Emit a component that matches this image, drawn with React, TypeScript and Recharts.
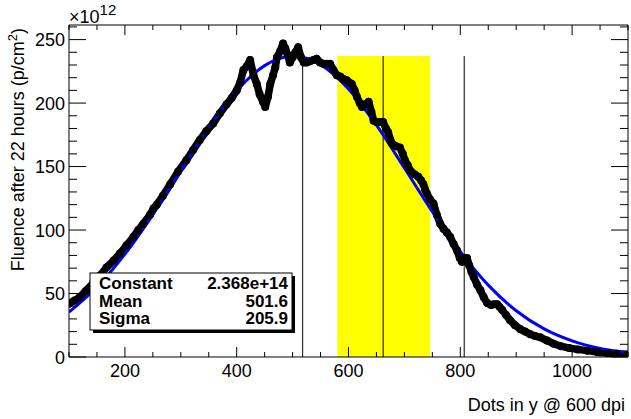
import {
  ComposedChart,
  Line,
  XAxis,
  YAxis,
  ReferenceArea,
  ReferenceLine,
} from 'recharts';

const W = 631;
const H = 419;
const FONT = '"Liberation Sans", Arial, Helvetica, sans-serif';

// measured fluence (x10^12 p/cm^2) vs dots in y
const dotsY = [
  100, 110, 119, 130, 143, 155, 167, 180, 191, 203, 215, 224, 233, 245, 251, 257, 268, 281, 295,
  310, 322, 334, 346, 358, 370, 382, 391, 400, 406, 412, 418, 424, 430, 436, 441, 447, 451, 456,
  460, 465, 469, 472, 478, 483, 487, 491, 495, 500, 505, 510, 515, 520, 525, 531, 537, 543, 549,
  555, 561, 567, 573, 579, 585, 591, 597, 602, 606, 611, 615, 620, 624, 630, 636, 641, 645, 650,
  656, 662, 667, 671, 675, 678, 685, 692, 697, 701, 706, 710, 718, 725, 730, 734, 737, 740, 746,
  752, 758, 764, 770, 776, 782, 788, 794, 799, 803, 808, 812, 816, 820, 824, 830, 836, 842, 848,
  855, 860, 866, 870, 875, 882, 889, 898, 907, 916, 925, 934, 943, 955, 967, 980, 995, 1010, 1027,
  1045, 1065, 1080, 1100,
];
const fluence = [
  42, 44.5, 47, 52, 58, 64, 70.5, 76, 81.5, 88, 94.5, 100, 105, 112, 117, 120, 127, 136, 146,
  155, 163, 171, 178, 184, 192, 199, 204, 210, 216, 226, 229, 234, 222, 215, 207, 201, 197, 205,
  215, 222, 228, 236, 241, 247, 243, 238, 232, 236, 240, 244, 236, 232, 232, 233, 234, 235, 232,
  231, 231, 231, 226, 222, 221, 219, 218, 216, 215, 210, 205, 200, 197, 199, 201, 193, 186, 185,
  185, 185, 180, 177, 171, 168, 166, 165, 160, 155, 151, 147, 144, 142, 139, 136, 132, 129, 124,
  121, 112, 105, 101, 98, 94.5, 89, 84, 78, 75, 78, 78, 72, 67, 63, 57, 52.5, 47, 42.5,
  41, 41.5, 41.5, 39.5, 37, 33, 29, 25, 22, 20, 18, 16.5, 15.5, 13, 10.5, 8.5, 7, 6, 5,
  4, 3, 2.5, 2,
];

// gaussian fit curve
const fitX = [
  100, 150, 200, 250, 300, 350, 400, 450, 500, 550, 600, 650, 700, 750, 800, 850, 900, 950, 1000,
  1050, 1100,
];
const fitY = [
  35.3, 55.1, 81.0, 112.2, 146.6, 180.6, 209.7, 229.5, 236.8, 230.3, 211.2, 182.6, 148.9, 114.4,
  82.9, 56.6, 36.4, 22.1, 12.7, 6.8, 3.5,
];

const xTicks = [
  100, 150, 200, 250, 300, 350, 400, 450, 500, 550, 600, 650, 700, 750, 800, 850, 900, 950, 1000,
  1050, 1100,
];
const yTicks = [
  0, 10, 20, 30, 40, 50, 60, 70, 80, 90, 100, 110, 120, 130, 140, 150, 160, 170, 180, 190, 200,
  210, 220, 230, 240, 250, 260,
];

const markerLines = [518, 662, 807];
const bandRange = [580, 746];
const markerTop = 237;

const statNames = ['Constant', 'Mean', 'Sigma'];
const statValues = ['2.368e+14', '501.6', '205.9'];

const measured = dotsY.map((x, i) => ({ x, y: fluence[i] }));
const fit = fitX.map((x, i) => ({ x, y: fitY[i] }));

function BottomTick({ x, y, payload }: any) {
  const major = payload.value % 200 === 0;
  return (
    <g>
      <line x1={x} x2={x} y1={y} y2={y - (major ? 10 : 5)} stroke="#000" />
      {major && (
        <text x={x} y={y + 20} textAnchor="middle" fontSize={18} fontFamily={FONT} fill="#000">
          {payload.value}
        </text>
      )}
    </g>
  );
}

function TopTick({ x, y, payload }: any) {
  const major = payload.value % 200 === 0;
  return <line x1={x} x2={x} y1={y} y2={y + (major ? 10 : 5)} stroke="#000" />;
}

function LeftTick({ x, y, payload }: any) {
  const major = payload.value % 50 === 0;
  return (
    <g>
      <line x1={x} x2={x + (major ? 17 : 8)} y1={y} y2={y} stroke="#000" />
      {major && (
        <text x={x - 4} y={y + 6.5} textAnchor="end" fontSize={18} fontFamily={FONT} fill="#000">
          {payload.value}
        </text>
      )}
    </g>
  );
}

function RightTick({ x, y, payload }: any) {
  const major = payload.value % 50 === 0;
  return <line x1={x} x2={x - (major ? 17 : 8)} y1={y} y2={y} stroke="#000" />;
}

function Overlay() {
  return (
    <svg
      width={W}
      height={H}
      style={{ position: 'absolute', left: 0, top: 0, pointerEvents: 'none' }}
      fontFamily={FONT}
    >
      <text x={69} y={23} fontSize={18} fill="#000">
        ×10
        <tspan dy={-8} fontSize={15}>
          12
        </tspan>
      </text>

      <text
        transform="translate(24,28) rotate(-90)"
        textAnchor="end"
        fontSize={18}
        fill="#000"
      >
        Fluence after 22 hours (p/cm
        <tspan dy={-7} fontSize={13}>
          2
        </tspan>
        <tspan dy={7}>)</tspan>
      </text>

      <text x={625} y={411} textAnchor="end" fontSize={18} fill="#000">
        Dots in y @ 600 dpi
      </text>

      <rect x={93} y={276} width={202} height={57} fill="#000" />
      <rect x={90} y={273} width={202} height={57} fill="#fff" stroke="#000" strokeWidth={1} />
      {statNames.map((name, i) => (
        <g key={name}>
          <text x={99} y={289 + i * 17.5} fontSize={17} fontWeight="bold" fill="#000">
            {name}
          </text>
          <text x={288} y={289 + i * 17.5} fontSize={17} fontWeight="bold" textAnchor="end" fill="#000">
            {statValues[i]}
          </text>
        </g>
      ))}
    </svg>
  );
}

export default function App() {
  return (
    <div style={{ position: 'absolute', left: 0, top: 0, width: W, height: H, background: '#fff' }}>
      <ComposedChart width={W} height={H} margin={{ top: 0, right: 0, bottom: 0, left: 0 }}>
        <XAxis
          xAxisId="x"
          type="number"
          dataKey="x"
          domain={[100, 1100]}
          ticks={xTicks}
          interval={0}
          height={62}
          tickSize={0}
          tickMargin={0}
          tickLine={false}
          tick={BottomTick}
          axisLine={{ stroke: '#000' }}
          allowDataOverflow
        />
        <XAxis
          xAxisId="xt"
          orientation="top"
          type="number"
          dataKey="x"
          domain={[100, 1100]}
          ticks={xTicks}
          interval={0}
          height={25}
          tickSize={0}
          tickMargin={0}
          tickLine={false}
          tick={TopTick}
          axisLine={{ stroke: '#000' }}
          allowDataOverflow
        />
        <YAxis
          yAxisId="y"
          type="number"
          domain={[0, 261.5]}
          ticks={yTicks}
          interval={0}
          width={69}
          tickSize={0}
          tickMargin={0}
          tickLine={false}
          tick={LeftTick}
          axisLine={{ stroke: '#000' }}
          allowDataOverflow
        />
        <YAxis
          yAxisId="yr"
          orientation="right"
          type="number"
          domain={[0, 261.5]}
          ticks={yTicks}
          interval={0}
          width={3}
          tickSize={0}
          tickMargin={0}
          tickLine={false}
          tick={RightTick}
          axisLine={{ stroke: '#000' }}
          allowDataOverflow
        />

        <ReferenceArea
          xAxisId="x"
          yAxisId="y"
          x1={bandRange[0]}
          x2={bandRange[1]}
          y1={0}
          y2={markerTop}
          fill="#ffff00"
          fillOpacity={1}
          stroke="none"
        />
        {markerLines.map((m) => (
          <ReferenceLine
            key={m}
            xAxisId="x"
            yAxisId="y"
            segment={[
              { x: m, y: 0 },
              { x: m, y: markerTop },
            ]}
            stroke="#000"
            strokeWidth={1}
          />
        ))}

        <Line
          xAxisId="x"
          yAxisId="y"
          data={measured}
          dataKey="y"
          type="linear"
          stroke="#000"
          strokeWidth={7.5}
          strokeLinejoin="round"
          dot={{ r: 4, fill: '#000', stroke: 'none' }}
          isAnimationActive={false}
        />
        <Line
          xAxisId="x"
          yAxisId="y"
          data={fit}
          dataKey="y"
          type="monotone"
          stroke="#0000ff"
          strokeWidth={3}
          dot={false}
          isAnimationActive={false}
        />
      </ComposedChart>
      <Overlay />
    </div>
  );
}
